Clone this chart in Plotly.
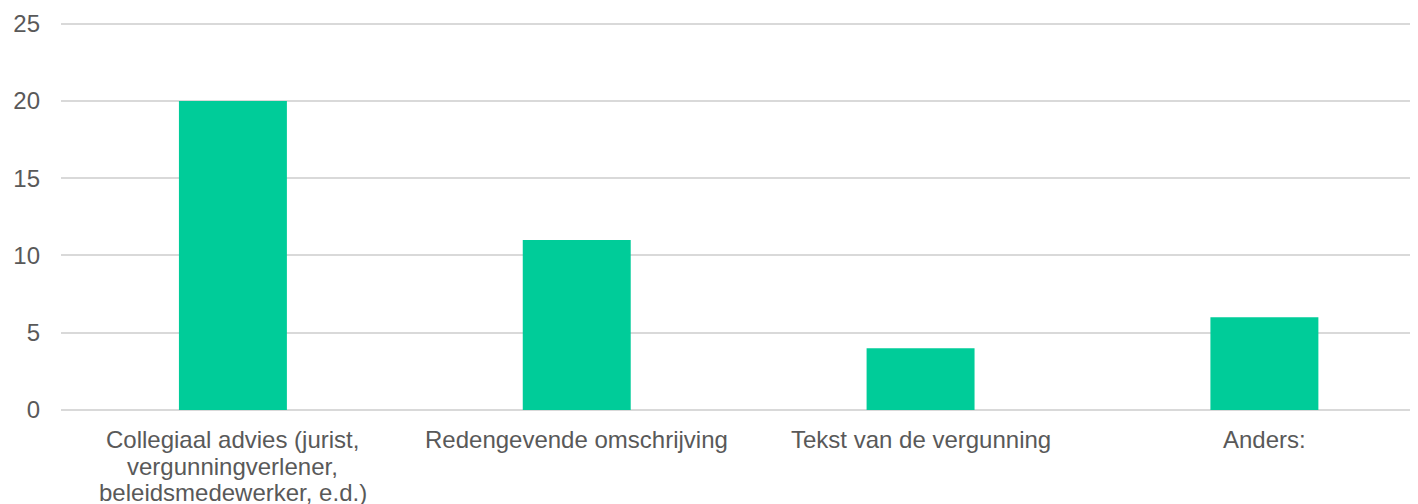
import plotly.graph_objects as go

# Data
categories = ["Collegiaal advies (jurist,\nvergunningverlener,\nbeleidsmedewerker, e.d.)",
              "Redengevende omschrijving",
              "Tekst van de vergunning",
              "Anders:"]
values = [20, 11, 4, 6]
y_ticks = [0, 5, 10, 15, 20, 25]

bar_color = "#00CC99"
text_color = "#595959"
grid_color = "#D9D9D9"
font_family = "Liberation Sans, Arial, sans-serif"

x_pos = list(range(len(categories)))

fig = go.Figure()
fig.add_bar(x=x_pos, y=values, width=0.314, marker=dict(color=bar_color, line=dict(width=0)))

# category labels, one annotation per line so the line spacing is tight
for i, lab in enumerate(categories):
    for j, line in enumerate(lab.split("\n")):
        fig.add_annotation(x=x_pos[i], y=0, xref="x", yref="y", text=line,
                           showarrow=False, yanchor="top", xanchor="center",
                           yshift=-14 - j * 26.7,
                           font=dict(size=24, color=text_color, family=font_family))

fig.update_layout(
    width=1418, height=504,
    margin=dict(l=53, r=0, t=11, b=102),
    plot_bgcolor="white", paper_bgcolor="white",
    showlegend=False,
    font=dict(family=font_family, size=24, color=text_color),
)
fig.update_xaxes(range=[-0.5, 3.47], showticklabels=False, showgrid=False,
                 zeroline=False, showline=False, fixedrange=True)
# range a bit above 25 so the top gridline is drawn
fig.update_yaxes(range=[0, 25.3], tickvals=y_ticks, showgrid=True, gridcolor=grid_color,
                 gridwidth=1.5, zeroline=True, zerolinecolor=grid_color, zerolinewidth=1.5,
                 showline=False, ticks="", ticklabelstandoff=20,
                 tickfont=dict(size=24, color=text_color, family=font_family))

fig.write_html("out.html")
